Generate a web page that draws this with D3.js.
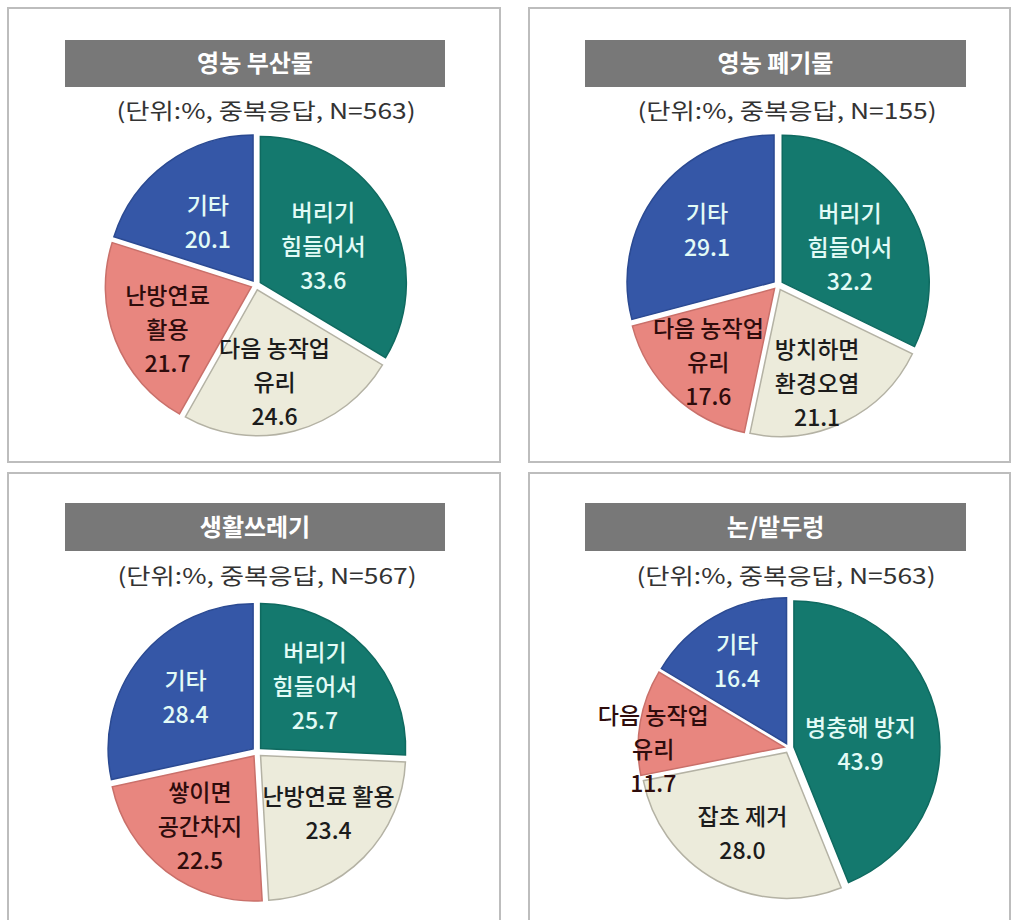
<!DOCTYPE html>
<html>
<head>
<meta charset="utf-8">
<script src="https://cdn.jsdelivr.net/npm/d3@7"></script>
<style>
  html, body { margin: 0; padding: 0; background: #fff; }
  svg { display: block; }
  text { font-family: "Noto Sans CJK KR", "Noto Sans", sans-serif; }
</style>
</head>
<body>
<svg id="chart" width="1012" height="920"></svg>
<script>
// ---- data ----
const titles = ["영농 부산물", "영농 폐기물", "생활쓰레기", "논/밭두렁"];
const subtitles = [
  "(단위:%, 중복응답, N=563)",
  "(단위:%, 중복응답, N=155)",
  "(단위:%, 중복응답, N=567)",
  "(단위:%, 중복응답, N=563)"
];
// slice order (clockwise from 12 o'clock): teal, cream, pink, blue
const labels1 = ["버리기\n힘들어서", "다음 농작업\n유리", "난방연료\n활용", "기타"];
const values1 = [33.6, 24.6, 21.7, 20.1];
const labels2 = ["버리기\n힘들어서", "방치하면\n환경오염", "다음 농작업\n유리", "기타"];
const values2 = [32.2, 21.1, 17.6, 29.1];
const labels3 = ["버리기\n힘들어서", "난방연료 활용", "쌓이면\n공간차지", "기타"];
const values3 = [25.7, 23.4, 22.5, 28.4];
const labels4 = ["병충해 방지", "잡초 제거", "다음 농작업\n유리", "기타"];
const values4 = [43.9, 28.0, 11.7, 16.4];

const sliceColors = ["#14796e", "#ecebdb", "#e8867f", "#3557a7"];
const sliceStrokes = ["#0f6a60", "#b4b2a4", "#c9706a", "#2b4a92"];
const labelColors = ["#e2fbf6", "#1c1c1c", "#2e0c0c", "#e2fbf6"];

const charts = [
  { labels: labels1, values: values1 },
  { labels: labels2, values: values2 },
  { labels: labels3, values: values3 },
  { labels: labels4, values: values4 }
];

// ---- layout (styling / placement) ----
const layout = [
  { box: [8, 8, 492, 454], bar: [65, 40, 380, 47], sub: [266, 119], center: [256, 285], r: 146,
    labelR: [0.53, 0.68, 0.68, 0.54], labelRot: [0, 4, -5.5, -1.5] },
  { box: [529, 8, 481, 454], bar: [585, 40, 381, 47], sub: [787, 119], center: [778, 285], r: 147,
    labelR: [0.55, 0.72, 0.71, 0.61], labelRot: [4.8, 4.4, -1.7, 0] },
  { box: [8, 473, 492, 460], bar: [65, 503, 380, 48], sub: [267, 584], center: [257, 752], r: 145,
    labelR: [0.6, 0.65, 0.65, 0.62], labelRot: [-4.5, -4, 0, -1.5] },
  { box: [529, 473, 481, 460], bar: [585, 503, 381, 48], sub: [786, 584], center: [789, 748], r: 146,
    labelR: [0.49, 0.67, 0.93, 0.69], labelRot: [8.6, 0, -10.7, -1.5] }
];

const svg = d3.select("#chart");
const explode = 5;
const lineH = 34;

charts.forEach((c, i) => {
  const L = layout[i];
  const g = svg.append("g");

  // panel border
  g.append("rect")
    .attr("x", L.box[0]).attr("y", L.box[1])
    .attr("width", L.box[2]).attr("height", L.box[3])
    .attr("fill", "#fff").attr("stroke", "#bdbdbd").attr("stroke-width", 2);

  // title bar
  g.append("rect")
    .attr("x", L.bar[0]).attr("y", L.bar[1])
    .attr("width", L.bar[2]).attr("height", L.bar[3])
    .attr("fill", "#787878");
  g.append("text")
    .attr("x", L.bar[0] + L.bar[2] / 2)
    .attr("y", L.bar[1] + L.bar[3] / 2)
    .attr("dy", "0.36em")
    .attr("text-anchor", "middle")
    .attr("fill", "#fff")
    .attr("font-size", 24)
    .attr("font-weight", 700)
    .text(titles[i]);

  // subtitle (source font is wide: stretch horizontally)
  g.append("text")
    .attr("transform", `translate(${L.sub[0]},${L.sub[1]}) scale(1.2,1)`)
    .attr("text-anchor", "middle")
    .attr("fill", "#333")
    .attr("font-size", 22)
    .text(subtitles[i]);

  // pie
  const pie = d3.pie().sort(null).value(d => d)(c.values);
  const arc = d3.arc().innerRadius(0).outerRadius(L.r);
  const pg = g.append("g").attr("transform", `translate(${L.center[0]},${L.center[1]})`);

  pg.selectAll("path.slice")
    .data(pie)
    .join("path")
    .attr("class", "slice")
    .attr("d", arc)
    .attr("transform", d => {
      const m = (d.startAngle + d.endAngle) / 2;
      return `translate(${explode * Math.sin(m)},${-explode * Math.cos(m)})`;
    })
    .attr("fill", (d, k) => sliceColors[k])
    .attr("stroke", (d, k) => sliceStrokes[k])
    .attr("stroke-width", 1.5);

  // labels
  pie.forEach((d, k) => {
    const m = (d.startAngle + d.endAngle) / 2 + L.labelRot[k] * Math.PI / 180;
    const rr = L.r * L.labelR[k];
    const lx = rr * Math.sin(m);
    const ly = -rr * Math.cos(m);
    const lines = c.labels[k].split("\n").concat([d.data.toFixed(1)]);
    const t = pg.append("text")
      .attr("text-anchor", "middle")
      .attr("fill", labelColors[k])
      .attr("font-size", 23)
      .attr("font-weight", 500);
    lines.forEach((ln, j) => {
      t.append("tspan")
        .attr("x", lx)
        .attr("y", ly + (j - (lines.length - 1) / 2) * lineH)
        .attr("dy", "0.36em")
        .text(ln);
    });
  });
});
</script>
</body>
</html>
